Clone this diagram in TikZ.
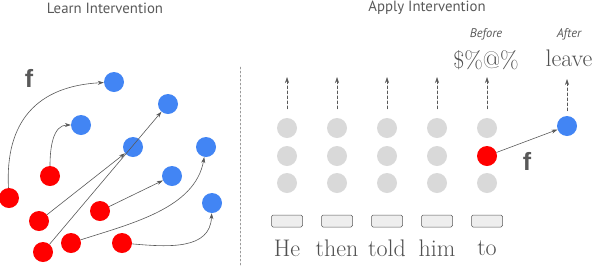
\documentclass[tikz,border=0pt]{standalone}
\usepackage{fontspec}
\newfontfamily\handfont{PT Sans}
\newfontfamily\boldsans{Liberation Sans}
\usetikzlibrary{arrows.meta}
\definecolor{blueN}{HTML}{4285F4}
\definecolor{redN}{HTML}{FF0000}
\definecolor{grayN}{HTML}{D9D9D9}
\definecolor{darkN}{HTML}{595959}
\definecolor{boxN}{HTML}{EEEEEE}
\begin{document}
\begin{tikzpicture}[x=1pt,y=-1pt,>={Stealth[length=6pt,width=4pt]},line join=round,line cap=round]
		\tikzset{dot/.style={circle,inner sep=0pt,minimum size=20pt},
			bluedot/.style={dot,fill=blueN},
			reddot/.style={dot,fill=redN},
			greydot/.style={dot,fill=grayN},
			link/.style={->,draw=darkN,line width=0.6pt},
			uplink/.style={->,draw=darkN,line width=0.6pt,dashed,dash pattern=on 3pt off 2pt,shorten <=9pt},
			tokbox/.style={draw=darkN,fill=boxN,line width=0.5pt,rounded corners=1.5pt,minimum width=31pt,minimum height=12pt,inner sep=0pt},
			word/.style={font=\fontsize{24}{24}\selectfont,text=darkN!90!black},
			title/.style={font=\handfont\fontsize{14.8}{14.8}\selectfont,text=darkN},
			tag/.style={font=\handfont\itshape\fontsize{12.5}{12.5}\selectfont,text=darkN},
			flabel/.style={font=\boldsans\bfseries\fontsize{25}{25}\selectfont,text=darkN}}
		\useasboundingbox (0,0) rectangle (596,266);
		%%Tiêu đề
		\node[title] (tleft) at (105,8) {Learn Intervention};
		\node[title] (tright) at (427,8) {Apply Intervention};
		\draw[darkN!60,dashed,dash pattern=on 2pt off 2pt,line width=0.5pt] (240,67)--(240,266);
		%%Các điểm bên trái
		\node[bluedot] (b1) at (114,82) {};
		\node[bluedot] (b2) at (168,104) {};
		\node[bluedot] (b3) at (81,125) {};
		\node[bluedot] (b4) at (133,147) {};
		\node[bluedot] (b5) at (206,147) {};
		\node[bluedot] (b6) at (172,176) {};
		\node[bluedot] (b7) at (212,203) {};
		\node[reddot] (r1) at (9,198) {};
		\node[reddot] (r2) at (50,176) {};
		\node[reddot] (r3) at (39,221) {};
		\node[reddot] (r4) at (100,211) {};
		\node[reddot] (r5) at (43,252) {};
		\node[reddot] (r6) at (71,243) {};
		\node[reddot] (r7) at (122,243) {};
		\draw[link] (r1) to[out=93,in=183,looseness=1.2] (b1);
		\draw[link] (r2) to[out=90,in=180,looseness=1] (b3);
		\draw[link] (r3)--(b4);
		\draw[link] (r5)--(b2);
		\draw[link] (r4)--(b6);
		\draw[link] (r6) to[out=18,in=-100,looseness=0.9] (b5);
		\draw[link] (r7) to[out=-5,in=-92,looseness=1.1] (b7);
		\node[flabel] (fleft) at (29,78) {f};
		%%Các cột bên phải
		\foreach \i/\x/\w in {1/287/He,2/337/then,3/387/told,4/437/him,5/487/to}{
			\node[greydot] (g\i a) at (\x,128) {};
			\ifnum\i=5
				\node[reddot] (g\i b) at (\x,156) {};
			\else
				\node[greydot] (g\i b) at (\x,156) {};
			\fi
			\node[greydot] (g\i c) at (\x,183) {};
			\coordinate (top\i) at (\x,77);
			\draw[uplink] (g\i a.north)--(top\i);
			\node[tokbox] (box\i) at (\x,221) {};
			\node[word] (w\i) at (\x,248) {\w};
		}
		\node[bluedot] (out) at (567,126) {};
		\coordinate (topout) at (567,79);
		\draw[uplink,shorten <=5pt] (out.north)--(topout);
		\draw[link] (g5b)--(out);
		\node[flabel] (fright) at (527,161) {f};
		\node[tag] (before) at (486,34) {Before};
		\node[word] (sym) at (486,60) {\$\%@\%};
		\node[tag] (after) at (569,34) {After};
		\node[word] (leave) at (569,58) {leave};
\end{tikzpicture}
\end{document}
